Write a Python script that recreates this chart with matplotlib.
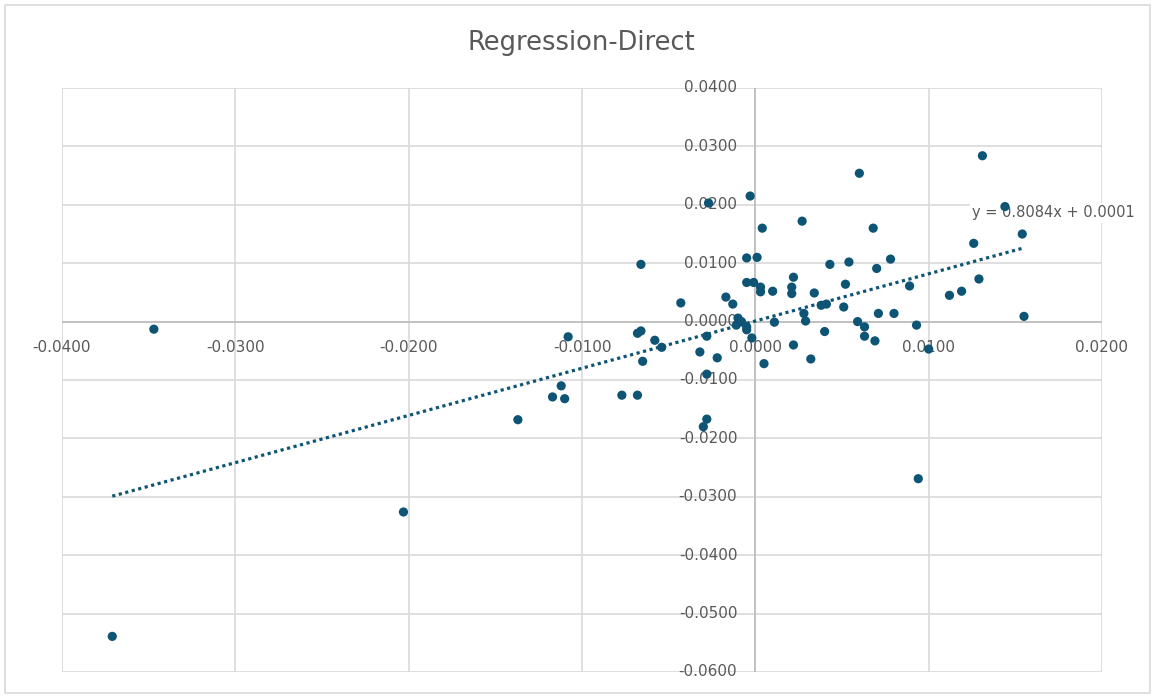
import matplotlib
matplotlib.use("Agg")
import matplotlib.pyplot as plt
from matplotlib.patches import Rectangle

# daily returns: index (x) vs. direct holding (y)
x_ret = [-0.0371, -0.0347, -0.0203, -0.0137, -0.0117, -0.0112, -0.0110, -0.0108,
         -0.0077, -0.0068, -0.0066, -0.0068, -0.0066, -0.0065, -0.0058, -0.0054,
         -0.0043, -0.0032, -0.0028, -0.0022, -0.0028, -0.0028, -0.0030, -0.0027,
         -0.0003, 0.0004, 0.0027, 0.0060, -0.0005, 0.0001, 0.0043, 0.0054,
         -0.0005, -0.0001, 0.0003, 0.0003, 0.0010, 0.0022, 0.0021, 0.0021,
         0.0034, 0.0052, 0.0041, 0.0051, -0.0017, -0.0013, 0.0131, 0.0144,
         0.0068, 0.0154, 0.0126, 0.0078, 0.0070, 0.0129, 0.0089, 0.0112,
         0.0119, 0.0071, 0.0080, 0.0155, 0.0059, 0.0063, 0.0063, 0.0040,
         0.0069, 0.0093, 0.0100, 0.0094, 0.0028, 0.0029, 0.0038, 0.0022,
         0.0032, 0.0005, 0.0011, -0.0002, -0.0010, -0.0008, -0.0011, -0.0005,
         -0.0005]
y_ret = [-0.0539, -0.0013, -0.0326, -0.0168, -0.0129, -0.0110, -0.0132, -0.0026,
         -0.0126, -0.0126, 0.0098, -0.0020, -0.0016, -0.0068, -0.0032, -0.0044,
         0.0032, -0.0052, -0.0025, -0.0062, -0.0090, -0.0167, -0.0180, 0.0203,
         0.0215, 0.0160, 0.0172, 0.0254, 0.0109, 0.0110, 0.0098, 0.0102,
         0.0067, 0.0067, 0.0059, 0.0051, 0.0052, 0.0076, 0.0059, 0.0048,
         0.0049, 0.0064, 0.0030, 0.0025, 0.0042, 0.0030, 0.0284, 0.0197,
         0.0160, 0.0150, 0.0134, 0.0107, 0.0091, 0.0073, 0.0061, 0.0045,
         0.0052, 0.0014, 0.0014, 0.0009, 0.0000, -0.0009, -0.0025, -0.0017,
         -0.0033, -0.0006, -0.0047, -0.0269, 0.0014, 0.0001, 0.0028, -0.0040,
         -0.0064, -0.0072, -0.0001, -0.0028, 0.0006, 0.0000, -0.0006, -0.0009,
         -0.0014]

slope = 0.8084
intercept = 0.0001

x_ticks = [-0.04, -0.03, -0.02, -0.01, 0.0, 0.01, 0.02]
y_ticks = [-0.06, -0.05, -0.04, -0.03, -0.02, -0.01, 0.0, 0.01, 0.02, 0.03, 0.04]

dot_color = "#0E5475"
text_color = "#595959"
grid_color = "#D9D9D9"

fig = plt.figure(figsize=(11.55, 6.98), dpi=100)
fig.patches.append(Rectangle((5 / 1155, 5 / 698), 1145 / 1155, 688 / 698,
                             transform=fig.transFigure, fill=False,
                             edgecolor=grid_color, linewidth=1.2))

ax = fig.add_axes([62 / 1155, 26 / 698, 1040 / 1155, 584 / 698])
ax.set_xlim(-0.04, 0.02)
ax.set_ylim(-0.06, 0.04)
for s in ax.spines.values():
    s.set_visible(False)
ax.set_xticks(x_ticks)
ax.set_yticks(y_ticks)
ax.tick_params(length=0, labelbottom=False, labelleft=False)
ax.grid(True, color=grid_color, linewidth=1.2, zorder=0)
ax.set_axisbelow(True)

# axes crossing at zero
ax.axhline(0, color="#BFBFBF", linewidth=1.3, zorder=1)
ax.axvline(0, color="#BFBFBF", linewidth=1.3, zorder=1)

for xv in x_ticks:
    ax.annotate(f"{xv:.4f}", (xv, 0), xytext=(0, -18.4), textcoords="offset points",
                ha="center", va="center", fontsize=11, color=text_color, zorder=2)
for yv in y_ticks:
    ax.annotate(f"{yv:.4f}", (0, yv), xytext=(-13, 0), textcoords="offset points",
                ha="right", va="center", fontsize=11, color=text_color, zorder=2)

# linear trendline over the data range
x0, x1 = min(x_ret), max(x_ret)
ax.plot([x0, x1], [slope * x0 + intercept, slope * x1 + intercept],
        color=dot_color, linewidth=2.3, linestyle=(0, (1, 1.1)), zorder=3)

ax.text(0.0172, 0.0186, f"y = {slope:.4f}x + {intercept:.4f}", ha="center", va="center",
        fontsize=10.5, color=text_color, zorder=3, clip_on=False,
        bbox=dict(facecolor="white", edgecolor="none", pad=1.5))

ax.scatter(x_ret, y_ret, s=44, color=dot_color, edgecolors="none", zorder=4)

fig.text(581 / 1155, 1 - 43 / 698, "Regression-Direct", ha="center", va="center",
         fontsize=18.5, color=text_color,
         family=["Liberation Sans Narrow", "DejaVu Sans Condensed", "DejaVu Sans"])

fig.savefig("out.png", dpi=100)
